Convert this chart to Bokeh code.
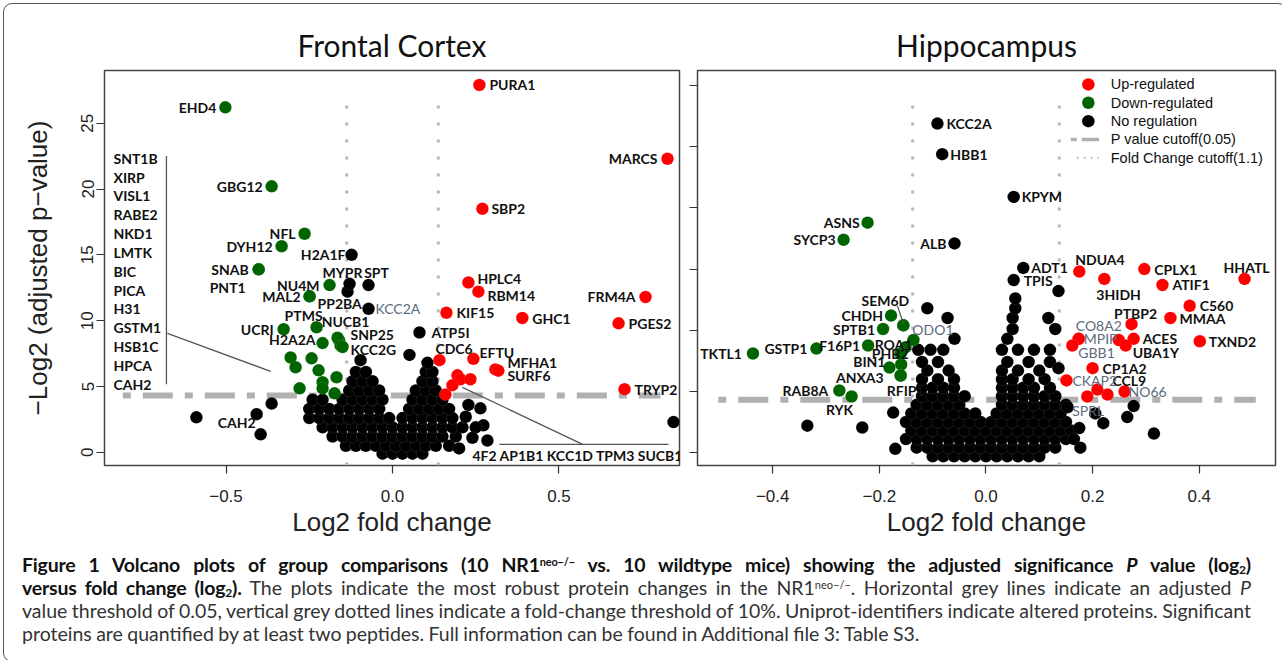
from bokeh.plotting import figure
from bokeh.models import ColumnDataSource, Range1d, FixedTicker, Div
from bokeh.layouts import row, column
from bokeh.embed import file_html
from bokeh.resources import INLINE
from bokeh.core.properties import value

P_CUT = 4.32      # -log2(0.05)
FC_CUT = 0.1375   # log2(1.1)

# ---------------- Frontal Cortex: labelled proteins ----------------
fc_names = ["PURA1", "MARCS", "SBP2", "HPLC4", "RBM14", "FRM4A", "KIF15", "GHC1", "PGES2",
            "CDC6", "EFTU", "MFHA1", "SURF6", "TRYP2",
            "EHD4", "GBG12", "NFL", "DYH12", "SNAB", "PNT1", "NU4M", "MAL2", "PP2BA", "UCRI",
            "PTMS", "NUCB1", "SNP25", "KCC2G", "H2A2A",
            "H2A1F", "MYPR", "SPT", "KCC2A", "ATP5I", "CAH2"]
fc_x = [0.261, 0.826, 0.270, 0.228, 0.258, 0.760, 0.162, 0.390, 0.679,
        0.141, 0.243, 0.309, 0.318, 0.697,
        -0.502, -0.363, -0.264, -0.333, -0.402, -0.402, -0.189, -0.249, -0.249, -0.327,
        -0.228, -0.165, -0.156, -0.150, -0.210,
        -0.123, -0.129, -0.072, -0.072, 0.081, -0.396]
fc_y = [27.9, 22.3, 18.5, 12.9, 12.2, 11.8, 10.6, 10.2, 9.8,
        7.0, 7.1, 6.3, 6.2, 4.8,
        26.2, 20.2, 16.6, 15.65, 13.9, 13.9, 12.7, 11.85, 11.85, 9.35,
        9.5, 8.7, 8.1, 8.0, 8.3,
        15.0, 12.8, 12.7, 10.9, 9.1, 1.37]
fc_reg = ["up"] * 14 + ["down"] * 15 + ["none"] * 6

# unlabelled significant proteins
fc_up_x = [0.195, 0.204, 0.234, 0.180, 0.159]
fc_up_y = [5.85, 5.55, 5.55, 5.10, 4.40]
fc_down_x = [-0.306, -0.291, -0.243, -0.222, -0.210, -0.168, -0.279, -0.210, -0.174, -0.160]
fc_down_y = [7.20, 6.46, 7.14, 6.23, 5.32, 5.70, 4.86, 4.86, 4.48, 8.50]

# unlabelled non-regulated proteins (x, y)
fc_cloud = [
    (-0.03, -0.1), (0.00, -0.1), (0.03, -0.1), (0.06, -0.1), (0.09, -0.1),
    (-0.14, 0.5), (-0.11, 0.5), (-0.08, 0.5), (-0.05, 0.5), (-0.02, 0.5), (0.01, 0.5), (0.04, 0.5),
    (0.07, 0.5), (0.10, 0.5), (0.13, 0.5), (0.17, 0.5),
    (-0.18, 1.2), (-0.15, 1.2), (-0.12, 1.2), (-0.09, 1.2), (-0.06, 1.2), (-0.03, 1.2), (0.00, 1.2),
    (0.03, 1.2), (0.06, 1.2), (0.09, 1.2), (0.12, 1.2), (0.15, 1.2), (0.19, 1.2),
    (-0.21, 1.9), (-0.18, 1.9), (-0.15, 1.9), (-0.12, 1.9), (-0.09, 1.9), (-0.06, 1.9), (-0.03, 1.9),
    (0.00, 1.9), (0.03, 1.9), (0.06, 1.9), (0.09, 1.9), (0.12, 1.9), (0.15, 1.9), (0.18, 1.9), (0.21, 1.9),
    (-0.25, 2.6), (-0.22, 2.6), (-0.19, 2.6), (-0.16, 2.6), (-0.13, 2.6), (-0.10, 2.6), (-0.07, 2.6),
    (-0.04, 2.6), (-0.01, 2.6), (0.03, 2.6), (0.06, 2.6), (0.09, 2.6), (0.12, 2.6), (0.15, 2.6), (0.18, 2.6),
    (-0.25, 3.3), (-0.22, 3.3), (-0.19, 3.3), (-0.16, 3.3), (-0.13, 3.3), (-0.10, 3.3), (-0.07, 3.3),
    (-0.04, 3.3), (0.05, 3.3), (0.08, 3.3), (0.11, 3.3), (0.14, 3.3), (0.17, 3.3),
    (-0.24, 4.0), (-0.21, 4.0), (-0.15, 4.0), (-0.12, 4.0), (-0.09, 4.0), (-0.06, 4.0), (-0.03, 4.0),
    (0.06, 4.0), (0.09, 4.0), (0.12, 4.0), (0.15, 4.0),
    (-0.13, 4.7), (-0.10, 4.7), (-0.07, 4.7), (-0.04, 4.7), (0.07, 4.7), (0.10, 4.7), (0.13, 4.7),
    (-0.12, 5.4), (-0.09, 5.4), (-0.06, 5.4), (0.09, 5.4), (0.12, 5.4),
    (-0.11, 6.1), (-0.08, 6.1), (0.10, 6.1), (0.12, 6.1), (0.105, 6.8),
    (0.264, 3.34), (0.273, 2.05), (0.285, 0.90), (0.228, 3.60), (0.220, 2.70), (0.250, 1.90),
    (0.240, 1.10), (0.200, 0.30), (-0.589, 2.66), (-0.408, 2.90), (-0.363, 3.70), (0.844, 2.30),
    (-0.096, 7.00), (0.051, 7.40), (-0.135, 12.20),
]
fc_group_left = ["SNT1B", "XIRP", "VISL1", "RABE2", "NKD1", "LMTK", "BIC", "PICA", "H31",
                 "GSTM1", "HSB1C", "HPCA", "CAH2"]
fc_group_bottom = ["4F2", "AP1B1", "KCC1D", "TPM3", "SUCB1"]

# ---------------- Hippocampus: labelled proteins ----------------
hp_names = ["NDUA4", "3HIDH", "CPLX1", "ATIF1", "HHATL", "C560", "MMAA", "PTBP2", "TXND2",
            "ACES", "UBA1Y", "CO8A2", "MPIP", "GBB1", "CP1A2", "CKAP2", "CCL9", "NO66", "SPRL",
            "ASNS", "SYCP3", "SEM6D", "CHDH", "SPTB1", "ODO1", "ROA1", "F16P1", "PHB2", "BIN1",
            "ANXA3", "RFIP1", "GSTP1", "TKTL1", "RAB8A", "RYK",
            "KCC2A", "HBB1", "ALB", "KPYM", "ADT1", "TPIS"]
hp_x = [0.175, 0.222, 0.297, 0.331, 0.485, 0.382, 0.346, 0.273, 0.401,
        0.277, 0.262, 0.174, 0.174, 0.162, 0.200, 0.151, 0.209, 0.260, 0.190,
        -0.222, -0.267, -0.155, -0.178, -0.193, -0.155, -0.136, -0.221, -0.160, -0.181,
        -0.160, -0.160, -0.318, -0.437, -0.275, -0.252,
        -0.091, -0.082, -0.059, 0.052, 0.070, 0.052]
hp_y = [14.8, 14.2, 15.0, 13.7, 14.2, 12.0, 11.0, 10.5, 9.1,
        9.3, 8.75, 9.3, 9.3, 8.75, 6.9, 5.9, 5.15, 4.99, 4.58,
        18.8, 17.4, 10.4, 11.2, 10.1, 10.4, 9.2, 8.75, 8.1, 6.95,
        6.3, 6.3, 8.5, 8.1, 5.07, 4.58,
        26.9, 24.4, 17.1, 20.9, 15.1, 14.1]
hp_reg = ["up"] * 19 + ["down"] * 16 + ["none"] * 6

hp_up_x = [0.249, 0.228]
hp_up_y = [9.2, 4.74]
hp_down_x = [-0.159, -0.151]
hp_down_y = [7.2, 8.6]

hp_cloud = [
    (-0.10, -0.3), (-0.08, -0.3), (-0.06, -0.3), (-0.04, -0.3), (-0.02, -0.3), (0.00, -0.3),
    (0.02, -0.3), (0.04, -0.3), (0.06, -0.3), (0.08, -0.3), (0.10, -0.3),
    (-0.13, 0.4), (-0.11, 0.4), (-0.09, 0.4), (-0.07, 0.4), (-0.05, 0.4), (-0.03, 0.4), (-0.01, 0.4),
    (0.01, 0.4), (0.03, 0.4), (0.05, 0.4), (0.07, 0.4), (0.09, 0.4), (0.11, 0.4), (0.13, 0.4),
    (-0.15, 1.1), (-0.13, 1.1), (-0.11, 1.1), (-0.09, 1.1), (-0.07, 1.1), (-0.05, 1.1), (-0.03, 1.1),
    (-0.01, 1.1), (0.01, 1.1), (0.03, 1.1), (0.05, 1.1), (0.07, 1.1), (0.09, 1.1), (0.11, 1.1),
    (0.13, 1.1), (0.15, 1.1),
    (-0.14, 1.8), (-0.12, 1.8), (-0.10, 1.8), (-0.08, 1.8), (-0.06, 1.8), (-0.04, 1.8), (-0.02, 1.8),
    (0.00, 1.8), (0.02, 1.8), (0.04, 1.8), (0.06, 1.8), (0.08, 1.8), (0.10, 1.8), (0.12, 1.8),
    (0.14, 1.8), (0.16, 1.8),
    (-0.15, 2.5), (-0.13, 2.5), (-0.11, 2.5), (-0.09, 2.5), (-0.07, 2.5), (-0.05, 2.5), (-0.03, 2.5),
    (-0.01, 2.5), (0.01, 2.5), (0.03, 2.5), (0.05, 2.5), (0.07, 2.5), (0.09, 2.5), (0.11, 2.5),
    (0.13, 2.5), (0.15, 2.5),
    (-0.14, 3.2), (-0.12, 3.2), (-0.10, 3.2), (-0.08, 3.2), (-0.06, 3.2), (-0.04, 3.2), (-0.02, 3.2),
    (0.02, 3.2), (0.04, 3.2), (0.06, 3.2), (0.08, 3.2), (0.10, 3.2), (0.12, 3.2), (0.14, 3.2),
    (-0.13, 3.9), (-0.11, 3.9), (-0.09, 3.9), (-0.07, 3.9), (-0.05, 3.9), (0.03, 3.9), (0.05, 3.9),
    (0.07, 3.9), (0.09, 3.9), (0.11, 3.9), (0.13, 3.9), (0.15, 3.9),
    (-0.12, 4.6), (-0.10, 4.6), (-0.08, 4.6), (-0.06, 4.6), (-0.04, 4.6), (0.03, 4.6), (0.05, 4.6),
    (0.07, 4.6), (0.09, 4.6), (0.11, 4.6), (0.13, 4.6),
    (-0.12, 5.3), (-0.10, 5.3), (-0.08, 5.3), (-0.06, 5.3), (0.03, 5.3), (0.05, 5.3), (0.07, 5.3),
    (0.09, 5.3), (0.12, 5.3),
    (-0.12, 6.0), (-0.09, 6.0), (-0.06, 6.0), (0.03, 6.0), (0.05, 6.0), (0.08, 6.0), (0.11, 6.0),
    (-0.11, 6.7), (-0.07, 6.7), (0.03, 6.7), (0.06, 6.7), (0.10, 6.7),
    (-0.12, 7.4), (-0.09, 7.4), (0.04, 7.4), (0.08, 7.4), (0.12, 7.4),
    (-0.127, 8.4), (-0.104, 8.4), (-0.08, 8.4), (0.03, 8.4), (0.06, 8.4), (0.09, 8.4), (0.12, 8.4),
    (-0.059, 9.3), (0.04, 9.3), (0.05, 10.1), (0.13, 10.1), (-0.072, 11.0), (0.05, 11.0), (0.117, 11.0),
    (-0.11, 11.8), (0.055, 11.8), (0.055, 12.6), (0.136, 13.2),
    (0.277, 3.8), (0.265, 2.9), (0.315, 1.55), (0.220, 2.4), (0.205, 3.2), (0.153, 3.7), (0.175, 2.0),
    (0.177, 0.4), (0.165, 1.1), (0.136, 6.9), (-0.335, 2.2), (-0.232, 2.05), (-0.174, 3.27), (-0.17, 0.3),
]

# ---------------- styles ----------------
RED, GREEN, BLACK = "#ff0000", "#006400", "#000000"
GREY_TXT = "#5b6b7b"
LABEL_FONT = "Lato"
AXIS_FONT = "Liberation Sans"

# label placement: (align, x offset px, y offset px, grey)
fc_style = {
    "PURA1": ("left", 10, 0, False), "MARCS": ("right", -10, 0, False), "SBP2": ("left", 9, 0, False),
    "HPLC4": ("left", 9, -4, False), "RBM14": ("left", 9, 4, False), "FRM4A": ("right", -10, 0, False),
    "KIF15": ("left", 10, 0, False), "GHC1": ("left", 10, 0, False), "PGES2": ("left", 10, 0, False),
    "CDC6": ("left", -4, -12, False), "EFTU": ("left", 6, -6, False), "MFHA1": ("left", 12, -7, False),
    "SURF6": ("left", 9, 5, False), "TRYP2": ("left", 10, 0, False),
    "EHD4": ("right", -9, 0, False), "GBG12": ("right", -9, 0, False), "NFL": ("right", -9, 0, False),
    "DYH12": ("right", -9, 0, False), "SNAB": ("right", -10, 0, False), "PNT1": ("right", -13, 18, False),
    "NU4M": ("right", -10, 0, False), "MAL2": ("right", -9, 0, False), "PP2BA": ("left", 8, 7, False),
    "UCRI": ("right", -10, 0, False), "PTMS": ("center", -13, -12, False), "NUCB1": ("center", 8, -16, False),
    "SNP25": ("left", 10, -11, False), "KCC2G": ("left", 8, 2, False), "H2A2A": ("right", -7, -4, False),
    "H2A1F": ("right", -6, 0, False), "MYPR": ("center", -7, -11, False), "SPT": ("center", 8, -13, False),
    "KCC2A": ("left", 7, 0, True), "ATP5I": ("left", 12, 0, False), "CAH2": ("right", -5, -12, False),
}
hp_style = {
    "NDUA4": ("left", -4, -12, False), "3HIDH": ("left", -8, 16, False), "CPLX1": ("left", 10, 0, False),
    "ATIF1": ("left", 10, 0, False), "HHATL": ("center", 2, -11, False), "C560": ("left", 10, 0, False),
    "MMAA": ("left", 9, 0, False), "PTBP2": ("center", 4, -11, False), "TXND2": ("left", 9, 0, False),
    "ACES": ("left", 9, 0, False), "UBA1Y": ("left", 7, 7, False), "CO8A2": ("left", -3, -13, True),
    "MPIP": ("left", 5, 0, True), "GBB1": ("left", 6, 7, True), "CP1A2": ("left", 10, 0, False),
    "CKAP2": ("left", 6, 0, True), "CCL9": ("left", 15, -9, False), "NO66": ("left", 4, 0, True),
    "SPRL": ("left", -15, 14, True),
    "ASNS": ("right", -8, 0, False), "SYCP3": ("right", -8, 0, False), "SEM6D": ("center", -18, -25, False),
    "CHDH": ("right", -8, 0, False), "SPTB1": ("right", -8, 0, False), "ODO1": ("left", 9, 4, True),
    "ROA1": ("right", -1, 4, False), "F16P1": ("right", -8, 0, False), "PHB2": ("right", 8, 0, False),
    "BIN1": ("right", -4, -6, False), "ANXA3": ("right", -17, 2, False), "RFIP1": ("center", 5, 15, False),
    "GSTP1": ("right", -9, 0, False), "TKTL1": ("right", -11, 0, False), "RAB8A": ("right", -11, 0, False),
    "RYK": ("center", -12, 13, False),
    "KCC2A": ("left", 9, 0, False), "HBB1": ("left", 8, 0, False), "ALB": ("right", -8, 0, False),
    "KPYM": ("left", 8, 0, False), "ADT1": ("left", 8, 0, False), "TPIS": ("left", 10, 0, False),
}


def style_axes(p, xticks, xlabels, yticks, show_ylabels):
    p.xgrid.visible = False
    p.ygrid.visible = False
    p.border_fill_color = None
    p.background_fill_color = None
    p.outline_line_color = "#444444"
    p.outline_line_width = 1.5
    for ax in (p.xaxis, p.yaxis):
        ax.axis_line_color = None
        ax.major_tick_line_color = "#333333"
        ax.major_tick_line_width = 1.2
        ax.major_tick_in = 0
        ax.major_tick_out = 8
        ax.minor_tick_line_color = None
        ax.major_label_text_font = AXIS_FONT
        ax.major_label_text_font_size = "17px"
        ax.major_label_text_color = "#222222"
        ax.axis_label_text_font = AXIS_FONT
        ax.axis_label_text_font_size = "26px"
        ax.axis_label_text_font_style = "normal"
        ax.axis_label_text_color = "#222222"
    p.xaxis.ticker = FixedTicker(ticks=xticks)
    p.xaxis.major_label_overrides = dict(zip(xticks, xlabels))
    p.xaxis.major_label_standoff = 16
    p.xaxis.axis_label = "Log2 fold change"
    p.xaxis.axis_label_standoff = 2
    p.yaxis.ticker = FixedTicker(ticks=yticks)
    if show_ylabels:
        p.yaxis.major_label_orientation = "vertical"
        p.yaxis.major_label_standoff = 3
        p.yaxis.axis_label = "\u2212Log2 (adjusted p\u2212value)"
        p.yaxis.axis_label_standoff = 26
    else:
        p.yaxis.major_label_overrides = {t: "" for t in yticks}
        p.yaxis.major_label_standoff = 0
    p.title.align = "center"
    p.title.text_font = LABEL_FONT
    p.title.text_font_size = "30px"
    p.title.text_font_style = "normal"
    p.title.text_color = "#111111"
    p.title.standoff = 15


def draw_points(p, names, xs, ys, regs, up_x, up_y, dn_x, dn_y, cloud):
    nx = [c[0] for c in cloud] + [x for x, r in zip(xs, regs) if r == "none"]
    ny = [c[1] for c in cloud] + [y for y, r in zip(ys, regs) if r == "none"]
    gx = dn_x + [x for x, r in zip(xs, regs) if r == "down"]
    gy = dn_y + [y for y, r in zip(ys, regs) if r == "down"]
    rx = up_x + [x for x, r in zip(xs, regs) if r == "up"]
    ry = up_y + [y for y, r in zip(ys, regs) if r == "up"]
    kw = dict(marker="circle", size=12.5, line_color="white", line_width=0.4, line_alpha=0.25)
    p.scatter(nx, ny, fill_color=BLACK, **kw)
    p.scatter(gx, gy, fill_color=GREEN, **kw)
    p.scatter(rx, ry, fill_color=RED, **kw)


def draw_labels(p, names, xs, ys, styles):
    groups = {}
    for n, x, y in zip(names, xs, ys):
        align, dx, dy, grey = styles[n]
        g = groups.setdefault((align, grey), dict(x=[], y=[], text=[], dx=[], dy=[]))
        g["x"].append(x); g["y"].append(y); g["text"].append(n)
        g["dx"].append(dx); g["dy"].append(dy)
    for (align, grey), g in groups.items():
        p.text(x="x", y="y", text="text", x_offset="dx", y_offset="dy",
               source=ColumnDataSource(g), text_align=align, text_baseline="middle",
               text_font=value(LABEL_FONT), text_font_size="14px",
               text_font_style="normal" if grey else "bold",
               text_color=GREY_TXT if grey else "#111111")


def cutoffs(p, xmin, xmax, ymin, ytop):
    p.segment(x0=[xmin], y0=[P_CUT], x1=[xmax], y1=[P_CUT], line_color="#b0b0b0",
              line_width=6, line_dash="8 12 30 12")
    p.segment(x0=[-FC_CUT, FC_CUT], y0=[ymin, ymin], x1=[-FC_CUT, FC_CUT], y1=[ytop, ytop],
              line_color="#b8b8b8", line_width=3, line_dash="3 14")


# ---------------- Frontal Cortex panel ----------------
p1 = figure(width=686, height=543, x_range=Range1d(-0.865, 0.862), y_range=Range1d(-1.0, 29.0),
            title="Frontal Cortex", output_backend="svg", toolbar_location=None,
            min_border_left=104, min_border_right=7, min_border_top=70, min_border_bottom=78)
style_axes(p1, [-0.5, 0.0, 0.5], ["\u22120.5", "0.0", "0.5"], [0, 5, 10, 15, 20, 25], True)
cutoffs(p1, -0.81, 0.805, -1.0, 26.8)
draw_points(p1, fc_names, fc_x, fc_y, fc_reg, fc_up_x, fc_up_y, fc_down_x, fc_down_y, fc_cloud)
draw_labels(p1, fc_names, fc_x, fc_y, fc_style)

# grouped annotations
top_y, step = 22.34, 1.431
p1.text(x=[-0.838] * len(fc_group_left), y=[top_y - i * step for i in range(len(fc_group_left))],
        text=fc_group_left, text_align="left", text_baseline="middle", text_font=value(LABEL_FONT),
        text_font_size="14px", text_font_style="bold", text_color="#111111")
p1.text(x=[0.240], y=[-0.23], text=["  ".join(fc_group_bottom)], text_align="left",
        text_baseline="middle", text_font=value(LABEL_FONT), text_font_size="14px",
        text_font_style="bold", text_color="#111111")
p1.segment(x0=[-0.679, -0.676, 0.321, 0.210], y0=[22.5, 9.04, 0.61, 4.94],
           x1=[-0.679, -0.366, 0.829, 0.571], y1=[5.17, 6.15, 0.61, 0.61],
           line_color="#555555", line_width=1.3)

# ---------------- Hippocampus panel ----------------
p2 = figure(width=594, height=543, x_range=Range1d(-0.541, 0.543), y_range=Range1d(-1.06, 31.24),
            title="Hippocampus", output_backend="svg", toolbar_location=None,
            min_border_left=11, min_border_right=5, min_border_top=70, min_border_bottom=78)
style_axes(p2, [-0.4, -0.2, 0.0, 0.2, 0.4], ["\u22120.4", "\u22120.2", "0.0", "0.2", "0.4"],
           [0, 5, 10, 15, 20, 25, 30], False)
cutoffs(p2, -0.502, 0.506, -1.06, 28.6)
draw_points(p2, hp_names, hp_x, hp_y, hp_reg, hp_up_x, hp_up_y, hp_down_x, hp_down_y, hp_cloud)
draw_labels(p2, hp_names, hp_x, hp_y, hp_style)
p2.segment(x0=[-0.166], y0=[12.0], x1=[-0.155], y1=[10.55], line_color="#555555", line_width=1.2)

# legend (drawn inside the panel, top right)
leg_items = ["Up-regulated", "Down-regulated", "No regulation", "P value cutoff(0.05)",
             "Fold Change cutoff(1.1)"]
leg_y = [30.1, 28.6, 27.1, 25.6, 24.1]
p2.scatter([0.192] * 3, leg_y[:3], marker="circle", size=12.5, line_color=None,
           fill_color=[RED, GREEN, BLACK])
p2.segment(x0=[0.159], y0=[leg_y[3]], x1=[0.212], y1=[leg_y[3]], line_color="#b0b0b0",
           line_width=3.5, line_dash="6 5 30 1")
p2.segment(x0=[0.170], y0=[leg_y[4]], x1=[0.212], y1=[leg_y[4]], line_color="#c0c0c0",
           line_width=2, line_dash="2 5")
p2.text(x=[0.234] * 5, y=leg_y, text=leg_items, text_align="left", text_baseline="middle",
        text_font=value(AXIS_FONT), text_font_size="14.5px", text_color="#111111")

# ---------------- caption ----------------
line_css = "text-align:justify;text-align-last:justify;white-space:nowrap;height:23px;"
b_css = "color:#111;letter-spacing:-0.2px;"
sup = "<span style='font-size:11px;vertical-align:6px;line-height:0'>neo\u2212/\u2212</span>"
sub = "<span style='font-size:12px;vertical-align:-2px;line-height:0'>2</span>"
caption = (
    "<div style=\"padding:5px 0 0 17px;width:1246px;font-family:'Lato',sans-serif;"
    "font-size:19.5px;word-spacing:-0.6px;line-height:23px;color:#333;\">"
    f"<div style='{line_css}'><b style='{b_css}'>Figure 1 Volcano plots of group comparisons (10 NR1{sup} vs. 10 wildtype mice) showing the adjusted significance <i>P</i> value (log{sub})</b></div>"
    f"<div style='{line_css}'><b style='{b_css}'>versus fold change (log{sub}).</b> The plots indicate the most robust protein changes in the NR1{sup}. Horizontal grey lines indicate an adjusted <i>P</i></div>"
    f"<div style='{line_css}'>value threshold of 0.05, vertical grey dotted lines indicate a fold-change threshold of 10%. Uniprot-identifiers indicate altered proteins. Significant</div>"
    "<div style='white-space:nowrap;'>proteins are quantified by at least two peptides. Full information can be found in Additional file 3: Table S3.</div>"
    "</div>"
)
div = Div(text=caption, width=1280, height=112)

layout = column(row(p1, p2), div,
                styles={"outline": "1.5px solid #555", "outline-offset": "-4px", "border-radius": "12px"})

open("out.html", "w").write(file_html(layout, INLINE))
